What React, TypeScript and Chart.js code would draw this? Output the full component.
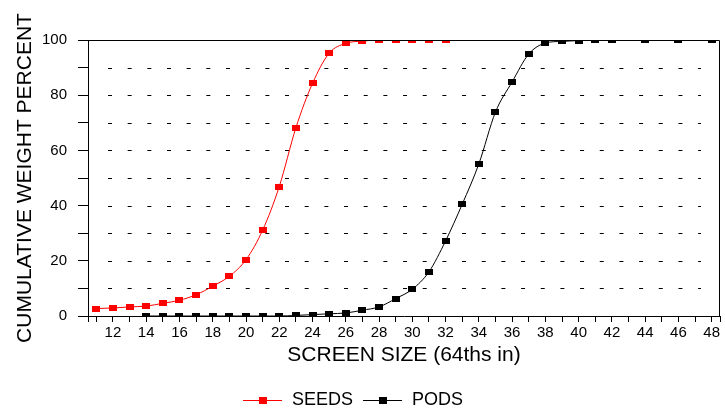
import React, { useEffect, useRef } from 'react';
import { Chart, registerables } from 'chart.js';

Chart.register(...registerables);

// ---- data ----
const SEEDS_SIZE = [11, 12, 13, 14, 15, 16, 17, 18, 19, 20, 21, 22, 23, 24, 25, 26, 27, 28, 29, 30, 31, 32];
const SEEDS_PCT = [2.7, 2.9, 3.3, 3.6, 4.6, 5.7, 7.7, 10.8, 14.4, 20.4, 31.1, 46.9, 68.2, 84.3, 95.2, 98.8, 99.6, 100, 100, 100, 100, 100];

const PODS_SIZE = [14, 15, 16, 17, 18, 19, 20, 21, 22, 23, 24, 25, 26, 27, 28, 29, 30, 31, 32, 33, 34, 35, 36, 37, 38, 39, 40, 41, 42, 44, 46, 48];
const PODS_PCT = [0, 0, 0, 0, 0, 0, 0, 0, 0, 0.2, 0.5, 0.8, 1.1, 2.1, 3.3, 6.3, 9.7, 16.0, 27.2, 40.5, 55.1, 73.9, 84.8, 94.9, 98.9, 99.5, 99.8, 100, 100, 100, 100, 100];

const SERIES_NAMES = ['SEEDS', 'PODS'];
const SERIES_COLORS = ['#ff0000', '#000000'];

const X_MIN = 10.5;
const X_MAX = 48.5;
const X_FIRST_TICK = 11;
const X_LAST_TICK = 48;
const X_TICK_LABELS = [12, 14, 16, 18, 20, 22, 24, 26, 28, 30, 32, 34, 36, 38, 40, 42, 44, 46, 48];
const Y_TICK_LABELS = [0, 20, 40, 60, 80, 100];

const X_TITLE = 'SCREEN SIZE (64ths in)';
const Y_TITLE = 'CUMULATIVE WEIGHT PERCENT';

const FONT = '"Liberation Sans", Arial, Helvetica, sans-serif';

function makeMarker(color: string): HTMLCanvasElement {
  const c = document.createElement('canvas');
  c.width = 8;
  c.height = 6;
  const g = c.getContext('2d')!;
  g.fillStyle = color;
  g.fillRect(0, 0, 8, 6);
  return c;
}

const dashedGridPlugin = {
  id: 'dashedGrid',
  beforeDatasetsDraw(chart: any) {
    const { ctx, chartArea } = chart;
    const y = chart.scales.y;
    ctx.save();
    ctx.strokeStyle = '#000';
    ctx.lineWidth = 1;
    ctx.setLineDash([4, 15.67]);
    y.ticks.forEach((t: any) => {
      if (t.value <= y.min || t.value >= y.max) return;
      const py = Math.round(y.getPixelForValue(t.value)) + 0.5;
      ctx.beginPath();
      ctx.moveTo(chartArea.left + 20, py);
      ctx.lineTo(chartArea.right - 19, py);
      ctx.stroke();
    });
    ctx.restore();
  },
};

const framePlugin = {
  id: 'frame',
  afterDatasetsDraw(chart: any) {
    const { ctx, chartArea } = chart;
    const l = Math.round(chartArea.left) + 0.5;
    const r = Math.round(chartArea.right) - 0.5;
    const t = Math.round(chartArea.top) + 0.5;
    const b = Math.round(chartArea.bottom) + 0.5;
    ctx.save();
    ctx.strokeStyle = '#000';
    ctx.lineWidth = 1;
    ctx.beginPath();
    ctx.moveTo(l, t);
    ctx.lineTo(r, t);
    ctx.lineTo(r, b);
    ctx.stroke();
    ctx.restore();
  },
};

const legendPlugin = {
  id: 'lineLegend',
  afterDraw(chart: any) {
    const { ctx } = chart;
    ctx.save();
    ctx.font = `18px ${FONT}`;
    ctx.textBaseline = 'middle';
    ctx.textAlign = 'left';
    let x = 243;
    const cy = 400;
    chart.data.datasets.forEach((ds: any) => {
      ctx.strokeStyle = ds.borderColor;
      ctx.lineWidth = 1;
      ctx.beginPath();
      ctx.moveTo(x, cy + 0.5);
      ctx.lineTo(x + 39, cy + 0.5);
      ctx.stroke();
      ctx.fillStyle = ds.borderColor;
      ctx.fillRect(Math.round(x + 19.5 - 4), cy - 3, 8, 7);
      ctx.fillStyle = '#000';
      ctx.fillText(ds.label, x + 49, cy);
      x += 49 + ctx.measureText(ds.label).width + 10;
    });
    ctx.restore();
  },
};

export default function App() {
  const canvasRef = useRef<HTMLCanvasElement | null>(null);

  useEffect(() => {
    const canvas = canvasRef.current;
    if (!canvas) return;

    const seriesX = [SEEDS_SIZE, PODS_SIZE];
    const seriesY = [SEEDS_PCT, PODS_PCT];

    const datasets = SERIES_NAMES.map((name, i) => ({
      label: name,
      data: seriesX[i].map((x, j) => ({ x, y: seriesY[i][j] })),
      borderColor: SERIES_COLORS[i],
      backgroundColor: SERIES_COLORS[i],
      borderWidth: 1,
      pointStyle: makeMarker(SERIES_COLORS[i]),
      pointRadius: 4,
      cubicInterpolationMode: 'monotone' as const,
      fill: false,
      clip: 0,
    }));

    const chart = new Chart(canvas, {
      type: 'line',
      data: { datasets },
      options: {
        animation: false,
        responsive: false,
        devicePixelRatio: 1,
        events: [],
        layout: { padding: { top: 40, right: 3.5, bottom: 44, left: 0 } },
        plugins: {
          legend: { display: false },
          tooltip: { enabled: false },
          title: { display: false },
        },
        scales: {
          x: {
            type: 'linear',
            min: X_MIN,
            max: X_MAX,
            afterFit: (scale: any) => {
              scale.height = 52;
            },
            afterBuildTicks: (scale: any) => {
              const ticks = [{ value: X_MIN }];
              for (let v = X_FIRST_TICK; v <= X_LAST_TICK; v++) ticks.push({ value: v });
              ticks.push({ value: X_MAX });
              scale.ticks = ticks;
            },
            grid: {
              drawOnChartArea: false,
              drawTicks: true,
              tickLength: 6,
              color: '#000',
              lineWidth: 1,
            },
            border: { display: true, color: '#000', width: 1 },
            ticks: {
              autoSkip: false,
              maxRotation: 0,
              minRotation: 0,
              padding: 2,
              color: '#000',
              font: { family: FONT, size: 15 },
              callback: (v: any) => (X_TICK_LABELS.includes(Number(v)) ? String(v) : ''),
            },
            title: {
              display: true,
              text: X_TITLE,
              color: '#000',
              font: { family: FONT, size: 21 },
              padding: { top: 0, bottom: 0 },
            },
          },
          y: {
            type: 'linear',
            min: 0,
            max: 100,
            afterFit: (scale: any) => {
              scale.width = 88;
            },
            grid: {
              drawOnChartArea: false,
              drawTicks: true,
              tickLength: 10,
              color: '#000',
              lineWidth: 1,
            },
            border: { display: true, color: '#000', width: 1 },
            ticks: {
              stepSize: 10,
              padding: 11,
              color: '#000',
              font: { family: FONT, size: 15 },
              callback: (v: any) => (Y_TICK_LABELS.includes(Number(v)) ? String(v) : ''),
            },
            title: {
              display: true,
              text: Y_TITLE,
              color: '#000',
              font: { family: FONT, size: 21 },
              padding: { top: 13, bottom: 0 },
            },
          },
        },
      },
      plugins: [dashedGridPlugin, framePlugin, legendPlugin],
    });

    return () => {
      chart.destroy();
    };
  }, []);

  return (
    <div style={{ position: 'absolute', left: 0, top: 0, width: 725, height: 412, background: '#fff' }}>
      <canvas ref={canvasRef} width={725} height={412} style={{ display: 'block' }} />
    </div>
  );
}
